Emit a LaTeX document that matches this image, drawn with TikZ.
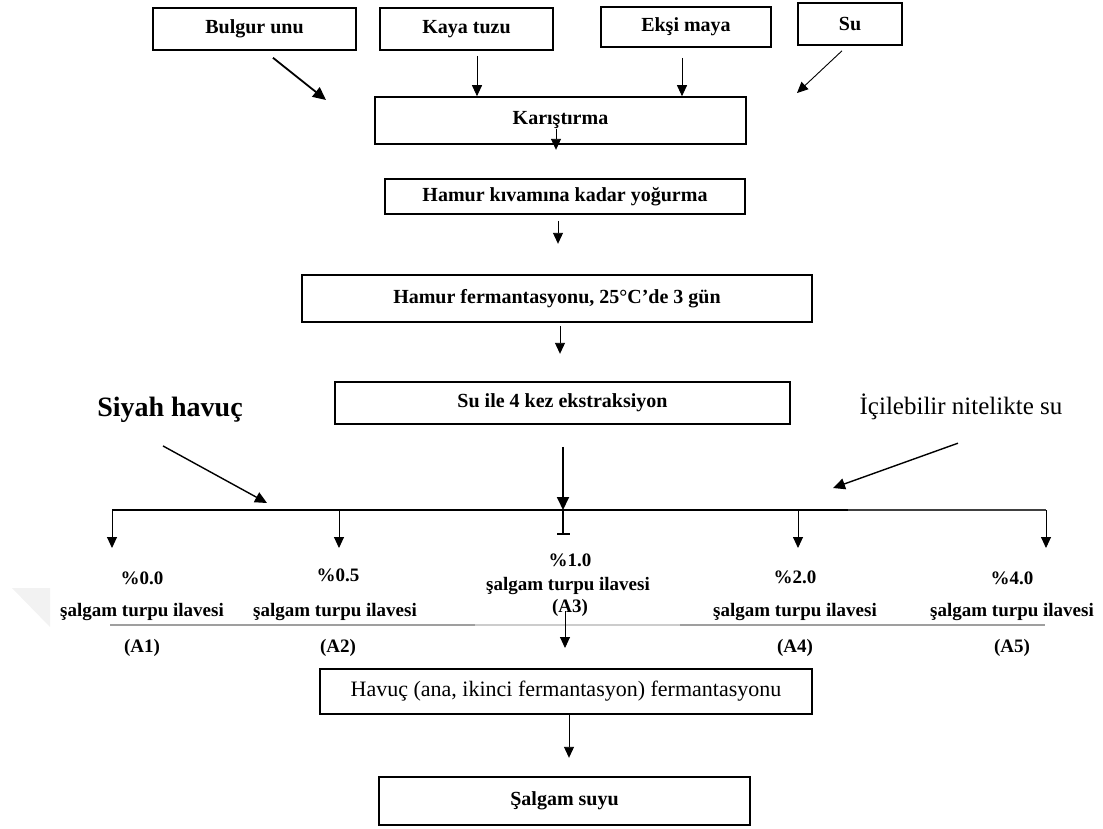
\documentclass[tikz,border=0pt]{standalone}
\usepackage{fontspec}
\setmainfont{Liberation Serif}
\usetikzlibrary{arrows.meta,positioning}

\begin{document}
\begin{tikzpicture}[
  x=1pt,y=-1pt,
  box/.style={draw,line width=1.6pt,inner sep=2pt,align=center,font=\fontsize{20}{22}\selectfont\bfseries},
  lbl/.style={inner sep=1pt,align=center,font=\fontsize{19}{22}\selectfont\bfseries},
  arrow/.style={-{Triangle[length=11pt,width=10pt]},line width=0.9pt},
  boldarrow/.style={-{Triangle[length=13pt,width=12pt]},line width=1.8pt},
  midarrow/.style={-{Triangle[length=12pt,width=11pt]},line width=1.4pt},
  underline/.style={line width=1.6pt}
]
  \useasboundingbox (0,0) rectangle (1103,828);
  \fill[gray!10] (12,588) -- (50,588) -- (50,627) -- cycle;

  % inputs
  \node[box,minimum width=203pt,minimum height=42pt] (bulgur) at (254.5,29) {Bulgur unu};
  \node[box,minimum width=173pt,minimum height=42pt] (kaya) at (466.5,29) {Kaya tuzu};
  \node[box,minimum width=170pt,minimum height=40pt] (eksi) at (686,27) {Ekşi maya};
  \node[box,minimum width=104pt,minimum height=42pt] (su) at (850,24) {Su};

  % main line
  \node[box,minimum width=371pt,minimum height=47pt] (karis) at (560.5,120.5) {Karıştırma};
  \node[box,minimum width=360pt,minimum height=35pt] (kivam) at (565,196.5) {Hamur kıvamına kadar yoğurma};
  \node[box,minimum width=510pt,minimum height=47pt] (ferm) at (557,298.5) {Hamur fermantasyonu, 25°C’de 3 gün};
  \node[box,minimum width=455pt,minimum height=42pt] (ekstr) at (562.5,403) {Su ile 4 kez ekstraksiyon};
  \node[box,font=\fontsize{22}{24}\selectfont,minimum width=492pt,minimum height=45pt] (havuc) at (566,691.5) {Havuç (ana, ikinci fermantasyon) fermantasyonu};
  \node[box,minimum width=371pt,minimum height=48pt] (salgam) at (564.5,801) {Şalgam suyu};

  % side inputs
  \node[lbl,font=\fontsize{28}{30}\selectfont\bfseries] (siyah) at (170,410) {Siyah havuç};
  \node[lbl,font=\fontsize{25}{28}\selectfont] (icme) at (961,407) {İçilebilir nitelikte su};

  % treatments
  \node[lbl] (p1) at (142,578) {\%0.0};
  \node[lbl] (t1) at (142,612) {şalgam turpu ilavesi};
  \node[lbl] (a1) at (142,648) {(A1)};
  \node[lbl] (p2) at (338,575) {\%0.5};
  \node[lbl] (t2) at (335,612) {şalgam turpu ilavesi};
  \node[lbl] (a2) at (338,648) {(A2)};
  \node[lbl] (p3) at (570,560) {\%1.0};
  \node[lbl] (t3) at (568,586) {şalgam turpu ilavesi};
  \node[lbl] (a3) at (570,608) {(A3)};
  \node[lbl] (p4) at (795,577) {\%2.0};
  \node[lbl] (t4) at (795,612) {şalgam turpu ilavesi};
  \node[lbl] (a4) at (795,648) {(A4)};
  \node[lbl] (p5) at (1012,578) {\%4.0};
  \node[lbl] (t5) at (1012,612) {şalgam turpu ilavesi};
  \node[lbl] (a5) at (1012,648) {(A5)};

  % split line
  \coordinate (hl) at (112,510);
  \coordinate (hm) at (563,510);
  \coordinate (hr) at (1046,510);
  \coordinate (b2) at (339,510);
  \coordinate (b4) at (798,510);
  \coordinate (siyahend) at (267,503);
  \coordinate (icmeend) at (833,488);
  \coordinate (suend) at (797,93);
  \coordinate (bulgurend) at (326,100);

  \draw[boldarrow] ([shift={(18.5pt,-7pt)}]bulgur.south) -- (bulgurend);
  \draw[arrow] ([xshift=10.5pt,yshift=-5pt]kaya.south) -- ([xshift=10.5pt]kaya.south |- karis.north);
  \draw[arrow] ([xshift=-4pt,yshift=-10pt]eksi.south) -- ([xshift=-4pt]eksi.south |- karis.north);
  \draw[arrow] ([shift={(-8pt,-5pt)}]su.south) -- (suend);
  \draw[arrow] ([shift={(-4.5pt,-8pt)}]karis.center) -- ([shift={(-4.5pt,-5pt)}]karis.south);
  \draw[arrow] ([shift={(-7pt,-6pt)}]kivam.south) -- ++(0,23);
  \draw[arrow] ([shift={(3pt,-3pt)}]ferm.south) -- ++(0,28);
  \draw[boldarrow] ([yshift=-22pt]ekstr.south -| hm) -- (hm);

  \draw[midarrow] ([shift={(-7pt,-22pt)}]siyah.south) -- (siyahend);
  \draw[midarrow] ([shift={(-3pt,-22pt)}]icme.south) -- (icmeend);

  \draw[line width=1.5pt] (hl) -- (hm);
  \draw[line width=1.5pt] (hm) -- (848,510);
  \draw[line width=1.5pt,black!75] (848,510) -- (hr);
  \draw[arrow] (hl) -- ++(0,38);
  \draw[arrow] (b2) -- ++(0,38);
  \draw[line width=1.1pt,-{Bar[width=13pt,line width=2pt]}] (hm) -- ++(0,25);
  \draw[arrow] (b4) -- ++(0,38);
  \draw[arrow] (hr) -- ++(0,38);

  \draw[underline,gray!75] (110,625) -- (475,625);
  \draw[underline,gray!40] (475,625) -- (680,625);
  \draw[underline,gray!75] (680,625) -- (1045,625);

  \draw[arrow] ([shift={(-5pt,-3pt)}]a3.center) -- ++(0,37);
  \draw[arrow] ([xshift=3pt]havuc.south) -- ++(0,43);
\end{tikzpicture}
\end{document}
